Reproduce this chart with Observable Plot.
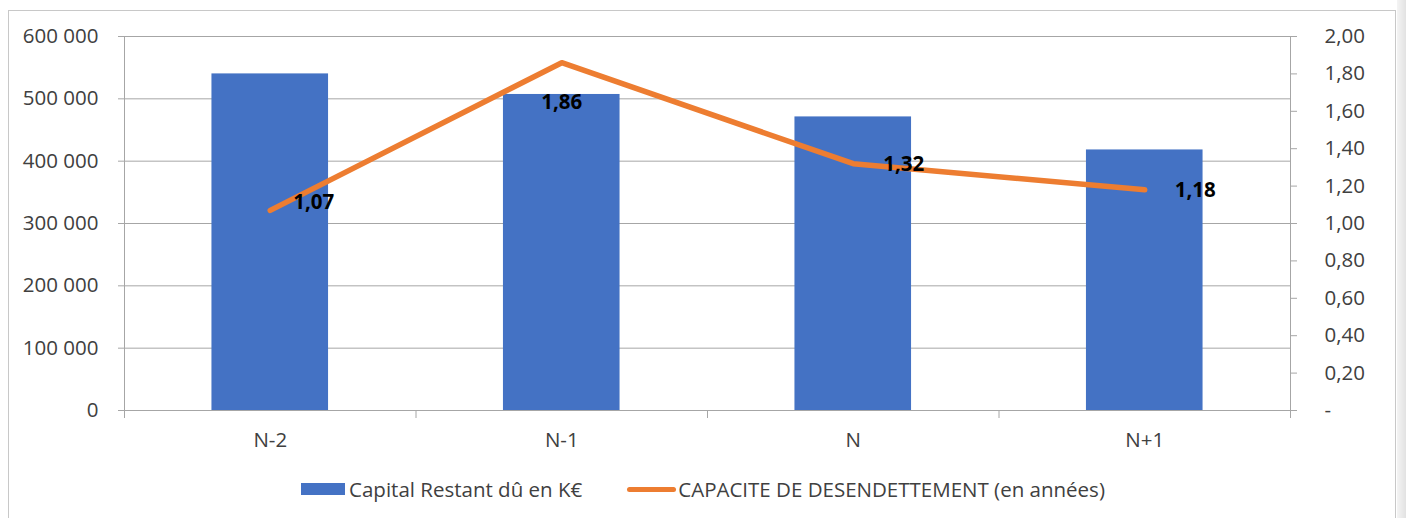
<!DOCTYPE html>
<html>
<head>
<meta charset="utf-8">
<script src="https://cdn.jsdelivr.net/npm/d3@7"></script>
<script src="https://cdn.jsdelivr.net/npm/@observablehq/plot@0.6"></script>
<style>
  body { margin: 0; background: #fff; font-family: "Open Sans", sans-serif; }
  #wrap { position: relative; width: 1406px; height: 518px; overflow: hidden; }
  #frame { position: absolute; left: 8px; top: 10px; width: 1388px; height: 540px; border: 1px solid #c8c8c8; box-sizing: border-box; pointer-events: none; }
  #edge { position: absolute; left: 1397px; top: 0; width: 9px; height: 518px; background: linear-gradient(to right, #f4f4f4, #e2e2e2); }
  #chart svg { display: block; }
  .legend { display: flex; justify-content: center; align-items: center; height: 38px; font-size: 20.5px; color: #404040; }
  .legend .item { display: flex; align-items: center; }
  .sw-bar { width: 44px; height: 12px; margin-right: 4px; }
  .sw-line { width: 49px; height: 5px; border-radius: 3px; margin-right: 2px; }
</style>
</head>
<body>
<div id="wrap">
  <div id="edge"></div>
  <div id="frame"></div>
  <div id="chart"></div>
</div>
<script>
// ---- data ----
const categories = ["N-2", "N-1", "N", "N+1"];
const capital = [540000, 507000, 471000, 418000];
const capacite = [1.07, 1.86, 1.32, 1.18];
const leftTicks = [0, 100000, 200000, 300000, 400000, 500000, 600000];
const rightTicks = [0, 0.2, 0.4, 0.6, 0.8, 1.0, 1.2, 1.4, 1.6, 1.8, 2.0];
const seriesNames = ["Capital Restant dû en K€", "CAPACITE DE DESENDETTEMENT (en années)"];
const colors = ["#4472C4", "#ED7D31"];

// secondary axis maps 0..2 onto 0..600000
const K = leftTicks[leftTicks.length - 1] / rightTicks[rightTicks.length - 1];

const rows = categories.map((c, i) => ({cat: c, i, capital: capital[i], capacite: capacite[i]}));
const fmtLeft = d => d3.format(",")(d).replace(/,/g, " ");
const fmtRight = d => d === 0 ? "-" : (d / K).toFixed(2).replace(".", ",");
const fmtLabel = v => v.toFixed(2).replace(".", ",");
const grid = "#a6a6a6";
const ink = "#404040";
const FS = 20.5;

const labelMark = (filter, opts) => Plot.text(rows.filter(filter), {
  x: d => d.i + 0.5, y: d => d.capacite * K, text: d => fmtLabel(d.capacite),
  fontWeight: "bold", fontSize: FS, fill: "#000", ...opts
});

const chart = Plot.plot({
  width: 1406,
  height: 470,
  marginLeft: 124,
  marginRight: 116,
  marginTop: 36,
  marginBottom: 60,
  style: {fontFamily: "'Open Sans', sans-serif", fontSize: FS + "px", background: "transparent"},
  x: {type: "linear", domain: [0, categories.length], axis: null},
  y: {domain: [0, leftTicks[leftTicks.length - 1]], axis: null},
  marks: [
    Plot.gridY(leftTicks.slice(1), {stroke: grid, strokeOpacity: 1}),
    Plot.rectY(rows, {x1: d => d.i + 0.3, x2: d => d.i + 0.7, y: "capital", fill: colors[0]}),
    Plot.ruleX([0, categories.length], {y1: 0, y2: leftTicks[leftTicks.length - 1], stroke: grid, strokeOpacity: 1}),
    Plot.ruleY([0], {stroke: grid, strokeOpacity: 1}),
    Plot.axisY(leftTicks, {anchor: "left", label: null, tickSize: 6, tickPadding: 20, tickFormat: fmtLeft, stroke: grid, strokeOpacity: 1, fill: ink, fontSize: FS}),
    Plot.axisY(rightTicks.map(v => v * K), {anchor: "right", label: null, tickSize: 6, tickPadding: 28, tickFormat: fmtRight, stroke: grid, strokeOpacity: 1, fill: ink, fontSize: FS}),
    Plot.axisX(d3.range(0, categories.length + 1), {anchor: "bottom", label: null, tickSize: 8, tickFormat: () => "", stroke: grid, strokeOpacity: 1}),
    Plot.axisX(rows.map(d => d.i + 0.5), {anchor: "bottom", label: null, tickSize: 0, tickPadding: 22, tickFormat: v => categories[Math.floor(v)], fill: ink, fontSize: FS}),
    Plot.line(rows, {x: d => d.i + 0.5, y: d => d.capacite * K, stroke: colors[1], strokeWidth: 5.5, strokeLinecap: "round", strokeLinejoin: "round"}),
    labelMark(d => d.i === 0, {textAnchor: "start", dx: 23, dy: -8}),
    labelMark(d => d.i === 1, {textAnchor: "middle", dy: 40}),
    labelMark(d => d.i > 1, {textAnchor: "start", dx: 30, dy: 1})
  ]
});
document.getElementById("chart").append(chart);

// legend (below the svg)
const legend = document.createElement("div");
legend.className = "legend";
legend.innerHTML = `
  <div class="item"><div class="sw-bar" style="background:${colors[0]}"></div><span>${seriesNames[0]}</span></div>
  <div class="item" style="margin-left:45px"><div class="sw-line" style="background:${colors[1]}"></div><span>${seriesNames[1]}</span></div>`;
document.getElementById("chart").append(legend);
</script>
</body>
</html>
